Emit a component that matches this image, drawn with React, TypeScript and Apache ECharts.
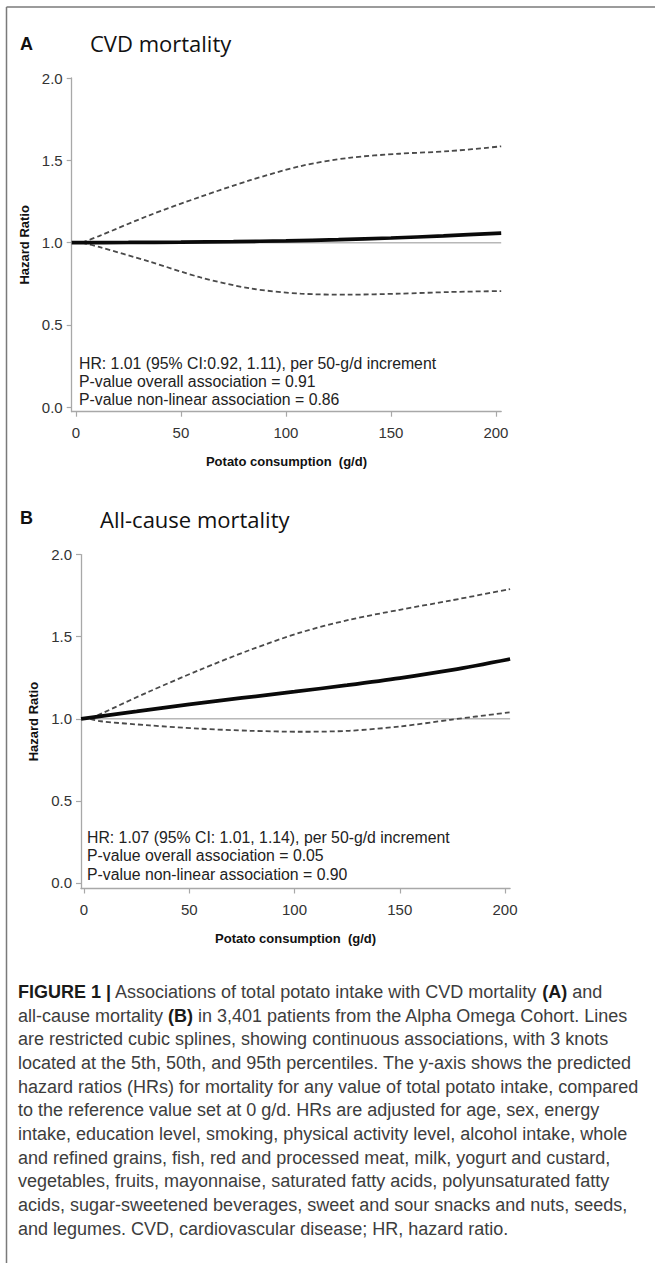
import React, { useEffect, useRef } from "react";
import * as echarts from "echarts";

// ---------- data ----------
const X_TICKS = [0, 50, 100, 150, 200];
const Y_TICKS = [0, 0.5, 1.0, 1.5, 2.0];
const REF_HR = 1.0;

// Panel A: CVD mortality
const A_HR_X = [-2, 25, 50, 75, 100, 125, 150, 175, 202.5];
const A_HR_Y = [1.0, 1.001, 1.003, 1.006, 1.011, 1.018, 1.028, 1.041, 1.058];
const A_CI_X = [3, 11, 35, 59, 83, 107, 130, 154, 178, 202.5];
const A_UPPER = [1.0, 1.04, 1.166, 1.277, 1.379, 1.465, 1.515, 1.54, 1.556, 1.585];
const A_LOWER = [1.0, 0.974, 0.885, 0.79, 0.722, 0.69, 0.684, 0.69, 0.7, 0.706];

// Panel B: All-cause mortality
const B_HR_X = [-1.4, 25, 50, 75, 100, 125, 150, 175, 202.4];
const B_HR_Y = [1.0, 1.045, 1.088, 1.127, 1.165, 1.205, 1.248, 1.298, 1.364];
const B_CI_X = [3, 8, 31, 55, 79, 103, 126, 150, 174, 202.4];
const B_UPPER = [1.0, 1.03, 1.166, 1.298, 1.42, 1.526, 1.603, 1.664, 1.72, 1.79];
const B_LOWER = [1.0, 0.985, 0.96, 0.94, 0.927, 0.921, 0.927, 0.953, 0.994, 1.04];

const TITLE_A = "CVD mortality";
const TITLE_B = "All-cause mortality";
const X_NAME = "Potato consumption  (g/d)";
const Y_NAME = "Hazard Ratio";
const NOTES_A = [
  "HR: 1.01 (95% CI:0.92, 1.11), per 50-g/d increment",
  "P-value overall association = 0.91",
  "P-value non-linear association = 0.86",
];
const NOTES_B = [
  "HR: 1.07 (95% CI: 1.01, 1.14), per 50-g/d increment",
  "P-value overall association = 0.05",
  "P-value non-linear association = 0.90",
];
const CAPTION_LINES = [
  "{b|FIGURE 1 |} Associations of total potato intake with CVD mortality {b|(A)} and",
  "all-cause mortality {b|(B)} in 3,401 patients from the Alpha Omega Cohort. Lines",
  "are restricted cubic splines, showing continuous associations, with 3 knots",
  "located at the 5th, 50th, and 95th percentiles. The y-axis shows the predicted",
  "hazard ratios (HRs) for mortality for any value of total potato intake, compared",
  "to the reference value set at 0 g/d. HRs are adjusted for age, sex, energy",
  "intake, education level, smoking, physical activity level, alcohol intake, whole",
  "and refined grains, fish, red and processed meat, milk, yogurt and custard,",
  "vegetables, fruits, mayonnaise, saturated fatty acids, polyunsaturated fatty",
  "acids, sugar-sweetened beverages, sweet and sour snacks and nuts, seeds,",
  "and legumes. CVD, cardiovascular disease; HR, hazard ratio.",
];

const pairs = (xs: number[], ys: number[]) => xs.map((x, i) => [x, ys[i]]);

const SANS = "Liberation Sans, Arial, sans-serif";
const AXIS_GRAY = "#a8a8a8";

function xAxisFor(gridIndex: number, min: number, max: number) {
  return {
    type: "value",
    gridIndex,
    min,
    max,
    name: X_NAME,
    nameLocation: "middle",
    nameGap: 43,
    nameTextStyle: { fontFamily: SANS, fontWeight: "bold", fontSize: 13, color: "#111" },
    axisLine: { show: true, onZero: false, lineStyle: { color: AXIS_GRAY, width: 1.3 } },
    axisTick: { show: true, length: 5, customValues: X_TICKS, lineStyle: { color: AXIS_GRAY, width: 1.2 } },
    axisLabel: {
      customValues: X_TICKS,
      margin: 13,
      fontFamily: SANS,
      fontSize: 15,
      color: "#333",
      formatter: (v: number) => String(v),
    },
    splitLine: { show: false },
  };
}

function yAxisFor(gridIndex: number, min: number) {
  return {
    type: "value",
    gridIndex,
    min,
    max: 2.0,
    name: Y_NAME,
    nameLocation: "middle",
    nameGap: 37,
    nameTextStyle: { fontFamily: SANS, fontWeight: "bold", fontSize: 13, color: "#111" },
    axisLine: { show: true, onZero: false, lineStyle: { color: AXIS_GRAY, width: 1.3 } },
    axisTick: { show: true, length: 5, customValues: Y_TICKS, lineStyle: { color: AXIS_GRAY, width: 1.2 } },
    axisLabel: {
      customValues: Y_TICKS,
      margin: 9,
      fontFamily: SANS,
      fontSize: 15,
      color: "#333",
      formatter: (v: number) => v.toFixed(1),
    },
    splitLine: { show: false },
  };
}

function panelSeries(
  idx: number,
  xmin: number,
  xmax: number,
  hrX: number[],
  hrY: number[],
  ciX: number[],
  up: number[],
  lo: number[]
) {
  const dashed = { color: "#4a4a4a", width: 1.8, type: [5, 3] as any };
  return [
    {
      type: "line",
      name: "Reference",
      xAxisIndex: idx,
      yAxisIndex: idx,
      data: [
        [xmin, REF_HR],
        [xmax, REF_HR],
      ],
      showSymbol: false,
      lineStyle: { color: "#b8b8b8", width: 1.5 },
      z: 1,
    },
    {
      type: "line",
      name: "Upper 95% CI",
      xAxisIndex: idx,
      yAxisIndex: idx,
      data: pairs(ciX, up),
      smooth: 0.3,
      showSymbol: false,
      lineStyle: dashed,
      z: 2,
    },
    {
      type: "line",
      name: "Lower 95% CI",
      xAxisIndex: idx,
      yAxisIndex: idx,
      data: pairs(ciX, lo),
      smooth: 0.3,
      showSymbol: false,
      lineStyle: dashed,
      z: 2,
    },
    {
      type: "line",
      name: "HR",
      xAxisIndex: idx,
      yAxisIndex: idx,
      data: pairs(hrX, hrY),
      smooth: 0.3,
      showSymbol: false,
      lineStyle: { color: "#0a0a0a", width: 3.7 },
      z: 3,
    },
  ];
}

function notes(lines: string[], x: number, y0: number, step: number) {
  return lines.map((t, i) => ({
    type: "text",
    x,
    y: y0 + i * step,
    style: {
      text: t,
      fontFamily: SANS,
      fontSize: 15.8,
      fill: "#222",
      verticalAlign: "middle",
      align: "left",
    },
  }));
}

export default function App() {
  const ref = useRef<HTMLDivElement>(null);
  useEffect(() => {
    if (!ref.current) return;
    const chart = echarts.init(ref.current, null, { renderer: "svg" });
    const A_MIN = -2,
      A_MAX = 202.5;
    const B_MIN = -1.43,
      B_MAX = 202.4;
    const option: any = {
      animation: false,
      backgroundColor: "#fff",
      grid: [
        { left: 71.7, top: 78, width: 429.5, height: 333.7, outerBoundsMode: "none", containLabel: false },
        { left: 81, top: 554.6, width: 429.1, height: 333.9, outerBoundsMode: "none", containLabel: false },
      ],
      xAxis: [xAxisFor(0, A_MIN, A_MAX), xAxisFor(1, B_MIN, B_MAX)],
      yAxis: [yAxisFor(0, -0.027), yAxisFor(1, -0.0335)],
      series: [
        ...panelSeries(0, A_MIN, A_MAX, A_HR_X, A_HR_Y, A_CI_X, A_UPPER, A_LOWER),
        ...panelSeries(1, B_MIN, B_MAX, B_HR_X, B_HR_Y, B_CI_X, B_UPPER, B_LOWER),
      ],
      graphic: [
        // frame
        { type: "line", shape: { x1: 6.5, y1: 7, x2: 655, y2: 7 }, style: { stroke: "#7a7a7a", lineWidth: 1.5 } },
        { type: "line", shape: { x1: 6.5, y1: 7, x2: 6.5, y2: 1263 }, style: { stroke: "#7a7a7a", lineWidth: 1.5 } },
        // panel letters
        {
          type: "text",
          x: 20,
          y: 44,
          style: { text: "A", fontFamily: SANS, fontWeight: "bold", fontSize: 18, fill: "#111", verticalAlign: "middle" },
        },
        {
          type: "text",
          x: 20,
          y: 518,
          style: { text: "B", fontFamily: SANS, fontWeight: "bold", fontSize: 18, fill: "#111", verticalAlign: "middle" },
        },
        // titles
        {
          type: "text",
          x: 90,
          y: 43,
          style: { text: TITLE_A, fontFamily: "Open Sans", fontSize: 22, fill: "#111", verticalAlign: "middle" },
        },
        {
          type: "text",
          x: 100,
          y: 519,
          style: { text: TITLE_B, fontFamily: "Open Sans", fontSize: 22, fill: "#111", verticalAlign: "middle" },
        },
        ...notes(NOTES_A, 79, 363, 18),
        ...notes(NOTES_B, 87, 837, 18.5),
        // caption
        {
          type: "text",
          x: 18,
          y: 980,
          style: {
            text: CAPTION_LINES.join("\n"),
            fontFamily: SANS,
            fontSize: 18,
            lineHeight: 23.7,
            fill: "#3d3d3d",
            verticalAlign: "top",
            align: "left",
            rich: {
              b: { fontFamily: SANS, fontSize: 18, fontWeight: "bold", fill: "#1a1a1a", lineHeight: 23.7 },
            },
          },
        },
      ],
    };
    chart.setOption(option);
    return () => chart.dispose();
  }, []);
  return (
    <div
      ref={ref}
      style={{ position: "absolute", left: 0, top: 0, width: 655, height: 1263, background: "#fff" }}
    />
  );
}
